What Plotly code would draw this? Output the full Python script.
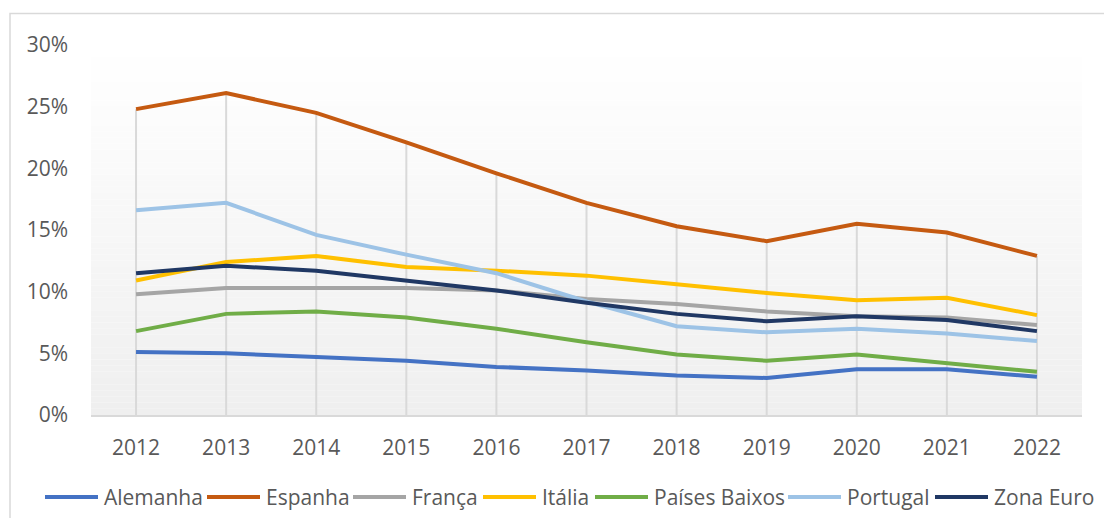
import plotly.graph_objects as go

# --------------------------------------------------
# Data
# --------------------------------------------------

years = [2012, 2013, 2014, 2015, 2016, 2017, 2018, 2019, 2020, 2021, 2022]

alemanha = [5.1, 5.0, 4.7, 4.4, 3.9, 3.6, 3.2, 3.0, 3.7, 3.7, 3.1]
espanha = [24.8, 26.1, 24.5, 22.1, 19.6, 17.2, 15.3, 14.1, 15.5, 14.8, 12.9]
franca = [9.8, 10.3, 10.3, 10.3, 10.1, 9.4, 9.0, 8.4, 8.0, 7.9, 7.3]
italia = [10.9, 12.4, 12.9, 12.0, 11.7, 11.3, 10.6, 9.9, 9.3, 9.5, 8.1]
paises_baixos = [6.8, 8.2, 8.4, 7.9, 7.0, 5.9, 4.9, 4.4, 4.9, 4.2, 3.5]
portugal = [16.6, 17.2, 14.6, 13.0, 11.5, 9.2, 7.2, 6.7, 7.0, 6.6, 6.0]
zona_euro = [11.5, 12.1, 11.7, 10.9, 10.1, 9.1, 8.2, 7.6, 8.0, 7.7, 6.8]

y_ticks = [0, 5, 10, 15, 20, 25, 30]

series = [
    ("Alemanha", alemanha, "#4472C4"),
    ("Espanha", espanha, "#C55A11"),
    ("França", franca, "#A5A5A5"),
    ("Itália", italia, "#FFC000"),
    ("Países Baixos", paises_baixos, "#70AD47"),
    ("Portugal", portugal, "#9DC3E6"),
    ("Zona Euro", zona_euro, "#203864"),
]

FONT = "Open Sans"
TEXT = "#595959"
GRID = "#D9D9D9"
FS = 21

# plot area in page pixels (the page body adds an 8px offset)
PX_L, PX_R, PX_T, PX_B = 91, 1082, 45, 415
OFF = 8
W, H = 1112, 518

def px_to_paper_x(px):
    return (px - PX_L) / (PX_R - PX_L)

def px_to_paper_y(py):
    return (PX_B - py) / (PX_B - PX_T)

fig = go.Figure()

# --------------------------------------------------
# Drop lines (from the highest series down to 0)
# --------------------------------------------------

drop_x = []
drop_y = []
for i, yr in enumerate(years):
    top = max(s[1][i] for s in series)
    drop_x += [yr, yr, None]
    drop_y += [0, top, None]

fig.add_trace(
    go.Scatter(
        x=drop_x,
        y=drop_y,
        mode="lines",
        line=dict(color=GRID, width=2),
        showlegend=False,
        hoverinfo="skip",
    )
)

# --------------------------------------------------
# Series
# --------------------------------------------------

for name, values, color in series:
    fig.add_trace(
        go.Scatter(
            x=years,
            y=values,
            mode="lines",
            name=name,
            line=dict(color=color, width=4),
            showlegend=False,
        )
    )

# --------------------------------------------------
# Plot-area gradient background + chart border
# --------------------------------------------------

shapes = []
bands = 60
for b in range(bands):
    t = b / (bands - 1)
    g = round(255 - (255 - 239) * t)
    shapes.append(
        dict(
            type="rect",
            xref="paper",
            yref="paper",
            x0=0,
            x1=1,
            y0=1 - (b + 1) / bands,
            y1=1 - b / bands,
            fillcolor=f"rgb({g},{g},{g})",
            line=dict(width=0),
            layer="below",
        )
    )

shapes.append(
    dict(
        type="rect",
        xref="paper",
        yref="paper",
        x0=px_to_paper_x(10),
        x1=px_to_paper_x(1140),
        y0=px_to_paper_y(560),
        y1=px_to_paper_y(13.5),
        line=dict(color=GRID, width=1.5),
        fillcolor="rgba(0,0,0,0)",
        layer="below",
    )
)

# --------------------------------------------------
# Legend (Excel-style: long line keys)
# --------------------------------------------------

legend_starts = [45, 207, 353, 483, 595, 788, 935]
key_len = 53
legend_y = px_to_paper_y(497)

annotations = []
for (name, _, color), x0 in zip(series, legend_starts):
    shapes.append(
        dict(
            type="line",
            xref="paper",
            yref="paper",
            x0=px_to_paper_x(x0),
            x1=px_to_paper_x(x0 + key_len),
            y0=legend_y,
            y1=legend_y,
            line=dict(color=color, width=4),
        )
    )
    annotations.append(
        dict(
            xref="paper",
            yref="paper",
            x=px_to_paper_x(x0 + key_len + 4),
            y=legend_y,
            xanchor="left",
            yanchor="middle",
            text=name,
            showarrow=False,
            font=dict(family=FONT, size=FS, color=TEXT),
        )
    )

# --------------------------------------------------
# Layout
# --------------------------------------------------

fig.update_layout(
    width=W,
    height=H,
    margin=dict(
        l=PX_L - OFF,
        r=W - (PX_R - OFF),
        t=PX_T - OFF,
        b=H - (PX_B - OFF),
        autoexpand=False,
    ),
    paper_bgcolor="white",
    plot_bgcolor="rgba(0,0,0,0)",
    font=dict(family=FONT, size=FS, color=TEXT),
    shapes=shapes,
    annotations=annotations,
    showlegend=False,
    xaxis=dict(
        range=[2011.5, 2022.5],
        tickmode="array",
        tickvals=years,
        ticktext=[str(y) for y in years],
        showgrid=False,
        zeroline=False,
        showline=True,
        linecolor=GRID,
        linewidth=2,
        ticks="",
        ticklabelstandoff=13,
        tickfont=dict(family=FONT, size=FS, color=TEXT),
    ),
    yaxis=dict(
        range=[0, 30],
        tickmode="array",
        tickvals=y_ticks,
        ticktext=[f"{v}%" for v in y_ticks],
        showgrid=False,
        zeroline=False,
        showline=False,
        ticks="",
        ticklabelstandoff=22,
        tickfont=dict(family=FONT, size=FS, color=TEXT),
    ),
)

fig.write_html("out.html")
